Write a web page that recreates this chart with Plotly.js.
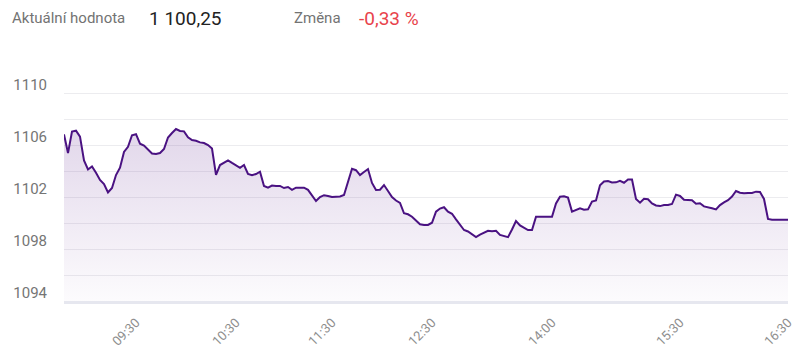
<!DOCTYPE html>
<html>
<head>
<meta charset="utf-8">
<script src="https://cdn.plot.ly/plotly-3.0.1.min.js"></script>
<style>
html,body{margin:0;padding:0;background:#fff;}
#chart{width:800px;height:362px;}
</style>
</head>
<body>
<div id="chart"></div>
<script>
// Ordinal point index (trades) and index values
var prices = [
1106.82,1105.38,1107.04,1107.10,1106.64,1104.81,1104.12,1104.35,1103.86,1103.31,
1103.00,1102.35,1102.69,1103.69,1104.25,1105.47,1105.86,1106.75,1106.83,1106.10,
1105.95,1105.67,1105.35,1105.31,1105.38,1105.69,1106.58,1106.92,1107.23,1107.08,
1107.05,1106.60,1106.38,1106.33,1106.20,1106.15,1106.00,1105.73,1103.70,1104.46,
1104.62,1104.82,1104.62,1104.42,1104.25,1104.46,1103.77,1103.67,1103.77,1103.95,
1102.85,1102.72,1102.88,1102.85,1102.85,1102.69,1102.77,1102.55,1102.72,1102.72,
1102.72,1102.55,1102.15,1101.69,1102.00,1102.14,1102.08,1102.00,1102.02,1102.04,
1102.15,1103.16,1104.17,1104.06,1103.69,1103.92,1104.15,1103.08,1102.54,1102.56,
1102.92,1102.46,1102.00,1101.73,1101.55,1100.75,1100.67,1100.48,1100.18,1099.90,
1099.85,1099.85,1100.02,1100.87,1101.11,1101.21,1100.87,1100.71,1100.28,1099.90,
1099.46,1099.35,1099.13,1098.92,1099.11,1099.23,1099.40,1099.37,1099.40,1099.08,
1099.02,1098.91,1099.50,1100.15,1099.82,1099.62,1099.46,1099.46,1100.48,1100.48,
1100.48,1100.48,1100.48,1101.50,1102.02,1102.05,1101.95,1100.88,1101.02,1101.13,
1101.02,1101.05,1101.65,1101.73,1102.90,1103.19,1103.23,1103.12,1103.13,1103.25,
1103.10,1103.35,1103.35,1101.85,1101.56,1101.87,1101.83,1101.51,1101.35,1101.30,
1101.38,1101.38,1101.46,1102.18,1102.08,1101.79,1101.77,1101.75,1101.48,1101.52,
1101.28,1101.23,1101.13,1101.04,1101.38,1101.59,1101.76,1102.04,1102.46,1102.33,
1102.28,1102.31,1102.31,1102.41,1102.38,1101.85,1100.31,1100.25,1100.25,1100.25,
1100.25,1100.25
];
var pointIndex = prices.map(function(_, i){ return i; });

var timeTickIndex = [18, 43, 67, 92, 122, 154, 181];
var timeTickLabels = ["09:30", "10:30", "11:30", "12:30", "14:00", "15:30", "16:30"];

var yTickValues = [1094, 1098, 1102, 1106, 1110];

var headerLabel1 = "Aktuální hodnota";
var headerValue1 = "1 100,25";
var headerLabel2 = "Změna";
var headerValue2 = "-0,33 %";

var trace = {
  x: pointIndex,
  y: prices,
  type: 'scatter',
  mode: 'lines',
  line: {color: '#4a1282', width: 2},
  fill: 'tozeroy',
  fillgradient: {
    type: 'vertical',
    start: 1094,
    stop: 1107.5,
    colorscale: [[0, 'rgba(120,70,160,0.02)'], [1, 'rgba(120,70,160,0.22)']]
  },
  hoverinfo: 'skip'
};

var gray = '#757575';
var layout = {
  width: 800,
  height: 362,
  margin: {l: 64, r: 12, t: 67, b: 61},
  paper_bgcolor: '#ffffff',
  plot_bgcolor: '#ffffff',
  showlegend: false,
  font: {family: 'Roboto, sans-serif', color: gray},
  xaxis: {
    type: 'linear',
    range: [0, 181],
    tickmode: 'array',
    tickvals: timeTickIndex,
    ticktext: timeTickLabels,
    tickangle: -45,
    tickfont: {size: 13, color: '#8e8e8e'},
    showgrid: false,
    zeroline: false,
    showline: true,
    linecolor: '#e6e7ef',
    linewidth: 3,
    ticks: '',
    ticklabelstandoff: 6,
    fixedrange: true
  },
  yaxis: {
    range: [1094, 1112],
    tickmode: 'array',
    tickvals: yTickValues,
    tickfont: {size: 15, color: gray},
    showgrid: true,
    gridcolor: '#ececef',
    gridwidth: 1,
    minor: {dtick: 2, tick0: 1094, showgrid: true, gridcolor: '#ececef', gridwidth: 1},
    zeroline: false,
    showline: false,
    ticks: '',
    ticklabelshift: -8,
    ticklabelstandoff: 16,
    fixedrange: true
  },
  annotations: [
    {text: headerLabel1, xref: 'paper', yref: 'paper', x: -0.0746, y: 1.209, xanchor: 'left', yanchor: 'middle', showarrow: false, font: {size: 15, color: '#737373'}},
    {text: headerValue1, xref: 'paper', yref: 'paper', x: 0.1146, y: 1.209, xanchor: 'left', yanchor: 'middle', showarrow: false, font: {size: 19, color: '#222222'}},
    {text: headerLabel2, xref: 'paper', yref: 'paper', x: 0.3149, y: 1.209, xanchor: 'left', yanchor: 'middle', showarrow: false, font: {size: 15, color: '#737373'}},
    {text: headerValue2, xref: 'paper', yref: 'paper', x: 0.4047, y: 1.209, xanchor: 'left', yanchor: 'middle', showarrow: false, font: {size: 19, color: '#e8434b'}}
  ]
};

Plotly.newPlot('chart', [trace], layout, {displayModeBar: false, staticPlot: true});
</script>
</body>
</html>
